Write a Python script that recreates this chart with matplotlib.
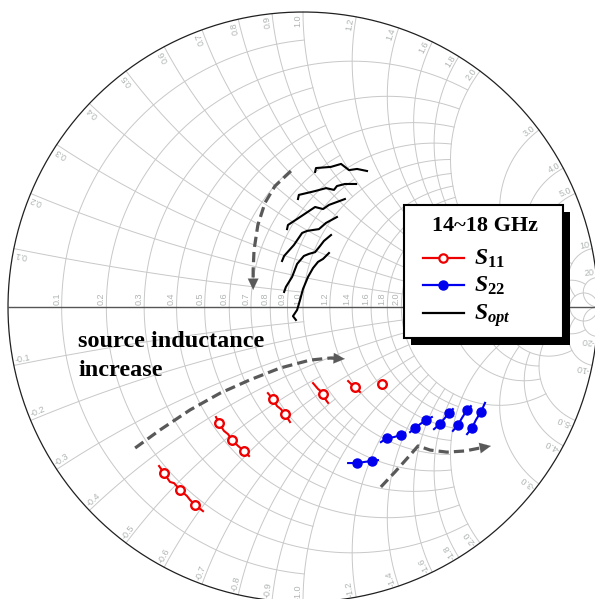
import numpy as np
import matplotlib
matplotlib.use("Agg")
import matplotlib.pyplot as plt
from matplotlib.patches import Rectangle

plt.rcParams['mathtext.fontset'] = 'custom'
plt.rcParams['mathtext.it'] = 'Liberation Serif:italic:bold'
plt.rcParams['mathtext.rm'] = 'Liberation Serif:bold'
plt.rcParams['mathtext.bf'] = 'Liberation Serif:bold'

# --- Smith chart grid values (normalised r and x) ---
GRID_VALUES = [0.1, 0.2, 0.3, 0.4, 0.5, 0.6, 0.7, 0.8, 0.9, 1.0,
               1.2, 1.4, 1.6, 1.8, 2.0, 3.0, 4.0, 5.0, 10.0, 20.0]
GRID_LIMITS = [1, 2, 1, 2, 1, 2, 1, 2, 1, 2,
               2, 2, 2, 2, 5, 5, 5, 10, 20, np.inf]
GRID_LABELS = ['0.1', '0.2', '0.3', '0.4', '0.5', '0.6', '0.7', '0.8', '0.9', '1.0',
               '1.2', '1.4', '1.6', '1.8', '2.0', '3.0', '4.0', '5.0', '10', '20']

# --- S11 traces (reflection coefficient), one per source inductance ---
S11_RE = [[-0.488, -0.471, -0.451, -0.437, -0.417, -0.393, -0.383, -0.366, -0.339],
          [-0.295, -0.285, -0.268, -0.254, -0.241, -0.220, -0.200, -0.183],
          [-0.119, -0.102, -0.088, -0.075, -0.061, -0.044],
          [0.034, 0.051, 0.064, 0.068, 0.085],
          [0.153, 0.166, 0.176, 0.193],
          [0.261, 0.275]]
S11_IM = [[-0.539, -0.563, -0.593, -0.597, -0.620, -0.641, -0.654, -0.671, -0.692],
          [-0.373, -0.393, -0.420, -0.431, -0.451, -0.471, -0.488, -0.505],
          [-0.292, -0.312, -0.336, -0.346, -0.363, -0.390],
          [-0.258, -0.278, -0.288, -0.302, -0.325],
          [-0.251, -0.264, -0.275, -0.288],
          [-0.258, -0.268]]
S11_MK_RE = [-0.471, -0.417, -0.366, -0.285, -0.241, -0.200, -0.102, -0.061, 0.068, 0.176, 0.268]
S11_MK_IM = [-0.563, -0.620, -0.671, -0.393, -0.451, -0.488, -0.312, -0.363, -0.295, -0.271, -0.261]

# --- S22 traces ---
S22_RE = [[0.153, 0.183, 0.210, 0.234, 0.254],
          [0.264, 0.285, 0.308, 0.332, 0.346],
          [0.363, 0.380, 0.397, 0.417, 0.437],
          [0.444, 0.464, 0.481, 0.495, 0.508],
          [0.508, 0.525, 0.539, 0.556, 0.569],
          [0.556, 0.573, 0.586, 0.603, 0.617]]
S22_IM = [[-0.529, -0.529, -0.525, -0.522, -0.519],
          [-0.458, -0.444, -0.441, -0.434, -0.427],
          [-0.424, -0.410, -0.397, -0.383, -0.373],
          [-0.414, -0.397, -0.376, -0.359, -0.346],
          [-0.420, -0.400, -0.376, -0.349, -0.336],
          [-0.431, -0.410, -0.383, -0.356, -0.325]]
S22_MK_RE = [0.183, 0.234, 0.285, 0.332, 0.380, 0.417, 0.464, 0.495, 0.525, 0.556, 0.573, 0.603]
S22_MK_IM = [-0.529, -0.522, -0.444, -0.434, -0.410, -0.383, -0.397, -0.359, -0.400, -0.349, -0.410, -0.356]

# --- S_opt traces ---
SOPT_RE = [[0.041, 0.044, 0.095, 0.129, 0.156, 0.183, 0.217],
           [-0.017, -0.014, 0.041, 0.078, 0.105, 0.115, 0.142, 0.180],
           [-0.054, -0.051, -0.010, 0.041, 0.068, 0.088, 0.115, 0.142],
           [-0.071, -0.064, -0.031, -0.003, 0.014, 0.034, 0.054, 0.078, 0.115],
           [-0.064, -0.058, -0.037, -0.020, 0.003, 0.020, 0.041, 0.058, 0.071, 0.095],
           [-0.024, -0.034, -0.020, -0.010, 0.000, 0.017, 0.034, 0.051, 0.068, 0.088]]
SOPT_IM = [[0.458, 0.471, 0.475, 0.485, 0.464, 0.468, 0.461],
           [0.366, 0.380, 0.393, 0.403, 0.397, 0.410, 0.417, 0.417],
           [0.264, 0.278, 0.305, 0.339, 0.332, 0.346, 0.356, 0.366],
           [0.156, 0.173, 0.210, 0.251, 0.258, 0.261, 0.264, 0.285, 0.305],
           [0.051, 0.068, 0.102, 0.146, 0.173, 0.180, 0.186, 0.207, 0.224, 0.244],
           [-0.044, -0.031, -0.010, 0.024, 0.061, 0.102, 0.132, 0.153, 0.163, 0.183]]

# --- dashed trend arrows ---
ARROW_RE = [[-0.041, -0.095, -0.129, -0.153, -0.166, -0.169, -0.169],
            [-0.569, -0.485, -0.383, -0.281, -0.180, -0.078, 0.024, 0.092, 0.142],
            [0.264, 0.312, 0.363, 0.390, 0.431, 0.488, 0.549, 0.600, 0.637]]
ARROW_IM = [[0.461, 0.410, 0.353, 0.278, 0.193, 0.125, 0.058],
            [-0.478, -0.417, -0.349, -0.292, -0.247, -0.207, -0.180, -0.173, -0.176],
            [-0.610, -0.559, -0.502, -0.471, -0.485, -0.492, -0.488, -0.478, -0.471]]

RED = '#ee0000'
BLUE = '#0000ee'
GRID_C = '#c8c8c8'
LABEL_C = '#b0b4b4'
ARROW_C = '#595959'
PX = 1 / 295.0  # one pixel in reflection-coefficient units


def gamma(z):
    return (z - 1) / (z + 1)


fig = plt.figure(figsize=(5.95, 5.99), dpi=100)
ax = fig.add_axes([0, 0, 1, 1])
ax.set_xlim(-303 * PX, 292 * PX)
ax.set_ylim(-292 * PX, 307 * PX)
ax.axis('off')

# grid: constant resistance circles and constant reactance arcs
for v, lim in zip(GRID_VALUES, GRID_LIMITS):
    tmax = np.pi / 2 - 1e-4 if np.isinf(lim) else np.arctan(lim)
    t = np.linspace(-tmax, tmax, 500)
    g = gamma(v + 1j * np.tan(t))
    ax.plot(g.real, g.imag, color=GRID_C, lw=0.7, zorder=1)
    t = np.linspace(0, tmax, 500)
    for s in (1, -1):
        g = gamma(np.tan(t) + 1j * s * v)
        ax.plot(g.real, g.imag, color=GRID_C, lw=0.7, zorder=1)

# outer circle and real axis
th = np.linspace(0, 2 * np.pi, 800)
ax.plot(np.cos(th), np.sin(th), color='#202020', lw=0.9, zorder=2)
ax.plot([-1, 1], [0, 0], color='#555555', lw=1.0, zorder=2)

# grid labels (resistance labels above 2 sit under the legend box)
lab_kw = dict(fontsize=6.5, family='Liberation Sans', color=LABEL_C,
              rotation_mode='anchor', zorder=2)
for v, lab in zip(GRID_VALUES, GRID_LABELS):
    gr = (v - 1) / (v + 1)
    if v <= 2:
        ax.text(gr - 0.5 * PX, 2 * PX, lab, rotation=90, ha='left', va='bottom', **lab_kw)
    a = np.pi - 2 * np.arctan(v)
    rin = 1 - 2 * PX
    d = 0.5 * PX
    ax.text(rin * np.cos(a + d), rin * np.sin(a + d), lab,
            rotation=np.degrees(a), ha='right', va='bottom', **lab_kw)
    ax.text(rin * np.cos(-a - d), rin * np.sin(-a - d), '-' + lab,
            rotation=np.degrees(-a) + 180, ha='left', va='bottom', **lab_kw)

# dashed arrows
for xs, ys in zip(ARROW_RE, ARROW_IM):
    ax.plot(xs[:-1] + [0.5 * (xs[-2] + xs[-1])], ys[:-1] + [0.5 * (ys[-2] + ys[-1])],
            color=ARROW_C, lw=2.3, dashes=(3.2, 1.6), zorder=3, solid_capstyle='butt')
    ax.annotate('', xy=(xs[-1], ys[-1]), xytext=(xs[-2], ys[-2]),
                arrowprops=dict(arrowstyle='-|>,head_length=0.8,head_width=0.38',
                                color=ARROW_C, lw=0.1, shrinkA=8, shrinkB=0),
                zorder=3)

# measured / simulated traces
for xs, ys in zip(SOPT_RE, SOPT_IM):
    ax.plot(xs, ys, color='black', lw=1.5, zorder=4)
for xs, ys in zip(S11_RE, S11_IM):
    ax.plot(xs, ys, color=RED, lw=1.5, zorder=4)
ax.plot(S11_MK_RE, S11_MK_IM, 'o', ls='none', ms=6.2, mfc='white', mec=RED, mew=1.7, zorder=5)
for xs, ys in zip(S22_RE, S22_IM):
    ax.plot(xs, ys, color=BLUE, lw=1.5, zorder=4)
ax.plot(S22_MK_RE, S22_MK_IM, 'o', ls='none', ms=6.5, color=BLUE, zorder=5)

# overlay in pixel units for annotation text and legend
ov = fig.add_axes([0, 0, 1, 1], zorder=5)
ov.set_xlim(0, 595)
ov.set_ylim(599, 0)
ov.axis('off')

serif = dict(family='Liberation Serif', weight='bold')
ov.text(78, 347, 'source inductance', fontsize=17.5, va='baseline', **serif)
ov.text(78, 376, 'increase', fontsize=17.5, va='baseline', **serif)

ov.add_patch(Rectangle((411, 212), 159, 133, fc='black', ec='none'))
ov.add_patch(Rectangle((404, 205), 159, 133, fc='white', ec='black', lw=1.5))
ov.text(485, 226, '14~18 GHz', fontsize=16, ha='center', va='center', **serif)

rows = [258, 285, 313]
ov.plot([423, 464], [rows[0]] * 2, color=RED, lw=1.6)
ov.plot([443], [rows[0]], 'o', ms=6, mfc='white', mec=RED, mew=1.6)
ov.plot([423, 464], [rows[1]] * 2, color=BLUE, lw=1.6)
ov.plot([443], [rows[1]], 'o', ms=6.5, color=BLUE)
ov.plot([423, 464], [rows[2]] * 2, color='black', lw=1.6)
for y, lab in zip(rows, [r'$S_{11}$', r'$S_{22}$', r'$S_{opt}$']):
    ov.text(474, y + 7, lab, fontsize=17, va='baseline')

fig.savefig('out.png', dpi=100)
